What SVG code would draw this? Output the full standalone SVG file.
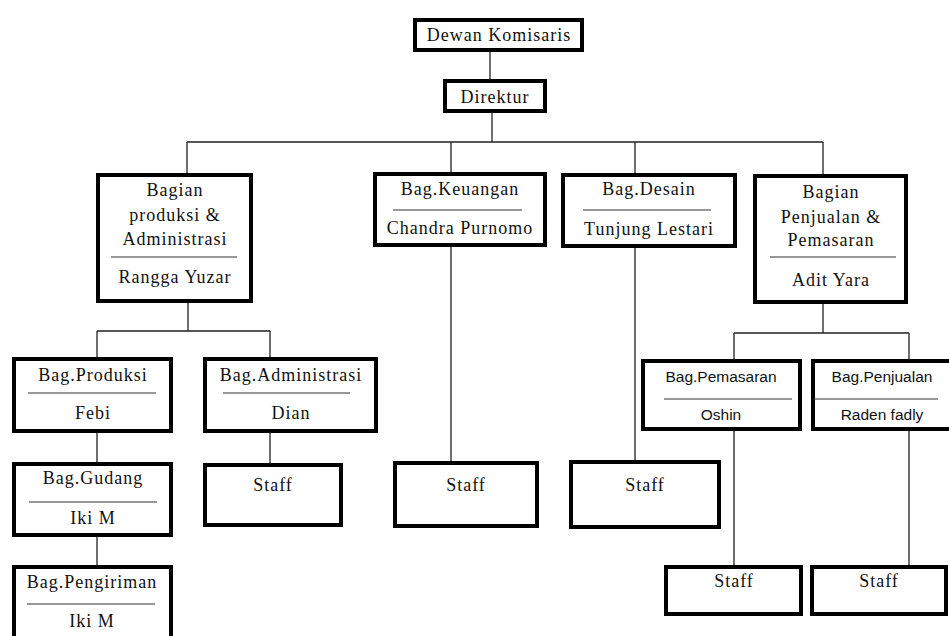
<svg xmlns="http://www.w3.org/2000/svg" width="949" height="636" viewBox="0 0 949 636">
<style>
.box{fill:#fff;stroke:#000;stroke-width:4}
.div{stroke:#333;stroke-width:1.2}
.t{font-family:"Liberation Serif","Times New Roman",serif;font-size:18px;letter-spacing:1px;fill:#111;text-anchor:middle}
.s{font-family:"Liberation Sans",Arial,sans-serif;font-size:15.5px;fill:#111;text-anchor:middle}
.c{stroke:#222;stroke-width:1.3;fill:none}
</style>
<rect width="949" height="636" fill="#fff"/>
<g id="connectors">
<path class="c" d="M490 52V79 M492 113V142 M187 142H823 M187 142V173 M451 142V172 M635 142V173 M823 142V174"/>
<path class="c" d="M188 303V331 M97 331H270 M97 331V357 M270 331V357 M97 433V462 M270 433V463 M97 537V565"/>
<path class="c" d="M451 245V461 M635 248V460"/>
<path class="c" d="M823 304V333 M734 333H909 M734 333V359 M909 333V359 M734 431V565 M909 431V565"/>
</g>
<g id="dewan"><rect class="box" x="415" y="20" width="167" height="30"/><text class="t" x="499" y="41">Dewan Komisaris</text></g>
<g id="direktur"><rect class="box" x="445" y="81" width="100" height="30"/><text class="t" x="495" y="103">Direktur</text></g>
<g id="bagian-produksi"><rect class="box" x="98" y="175" width="153" height="126"/>
<text class="t" x="175" y="196">Bagian</text><text class="t" x="175" y="221">produksi &amp;</text><text class="t" x="175" y="245">Administrasi</text>
<line class="div" x1="111" y1="257" x2="237" y2="257"/><text class="t" x="175" y="283">Rangga Yuzar</text></g>
<g id="keuangan"><rect class="box" x="375" y="174" width="170" height="71"/>
<text class="t" x="460" y="195">Bag.Keuangan</text><line class="div" x1="393" y1="210" x2="522" y2="210"/><text class="t" x="460" y="234">Chandra Purnomo</text></g>
<g id="desain"><rect class="box" x="563" y="175" width="172" height="71"/>
<text class="t" x="649" y="195">Bag.Desain</text><line class="div" x1="583" y1="210" x2="711" y2="210"/><text class="t" x="649" y="235">Tunjung Lestari</text></g>
<g id="bagian-penjualan"><rect class="box" x="755" y="176" width="151" height="126"/>
<text class="t" x="831" y="198">Bagian</text><text class="t" x="831" y="223">Penjualan &amp;</text><text class="t" x="831" y="246">Pemasaran</text>
<line class="div" x1="770" y1="257" x2="896" y2="257"/><text class="t" x="831" y="286">Adit Yara</text></g>
<g id="produksi"><rect class="box" x="14" y="359" width="157" height="72"/>
<text class="t" x="93" y="381">Bag.Produksi</text><line class="div" x1="28" y1="393" x2="156" y2="393"/><text class="t" x="93" y="419">Febi</text></g>
<g id="administrasi"><rect class="box" x="205" y="359" width="171" height="72"/>
<text class="t" x="291" y="381">Bag.Administrasi</text><line class="div" x1="223" y1="393" x2="350" y2="393"/><text class="t" x="291" y="419">Dian</text></g>
<g id="gudang"><rect class="box" x="14" y="464" width="157" height="71"/>
<text class="t" x="93" y="484">Bag.Gudang</text><line class="div" x1="29" y1="502" x2="157" y2="502"/><text class="t" x="93" y="524">Iki M</text></g>
<g id="pengiriman"><rect class="box" x="14" y="567" width="157" height="80"/>
<text class="t" x="92" y="588">Bag.Pengiriman</text><line class="div" x1="27" y1="604" x2="155" y2="604"/><text class="t" x="92" y="627">Iki M</text></g>
<g id="staff-admin"><rect class="box" x="205" y="465" width="136" height="60"/><text class="t" x="273" y="491">Staff</text></g>
<g id="staff-keuangan"><rect class="box" x="395" y="463" width="142" height="63"/><text class="t" x="466" y="491">Staff</text></g>
<g id="staff-desain"><rect class="box" x="571" y="462" width="148" height="65"/><text class="t" x="645" y="491">Staff</text></g>
<g id="pemasaran"><rect class="box" x="643" y="361" width="157" height="68"/>
<text class="s" x="721" y="382">Bag.Pemasaran</text><line class="div" x1="664" y1="399" x2="792" y2="399"/><text class="s" x="721" y="420">Oshin</text></g>
<g id="penjualan"><rect class="box" x="813" y="361" width="150" height="68"/>
<text class="s" x="882" y="382">Bag.Penjualan</text><line class="div" x1="813" y1="399" x2="938" y2="399"/><text class="s" x="882" y="420">Raden fadly</text></g>
<g id="staff-pemasaran"><rect class="box" x="666" y="567" width="135" height="47"/><text class="t" x="734" y="587">Staff</text></g>
<g id="staff-penjualan"><rect class="box" x="812" y="567" width="134" height="47"/><text class="t" x="879" y="587">Staff</text></g>
</svg>
